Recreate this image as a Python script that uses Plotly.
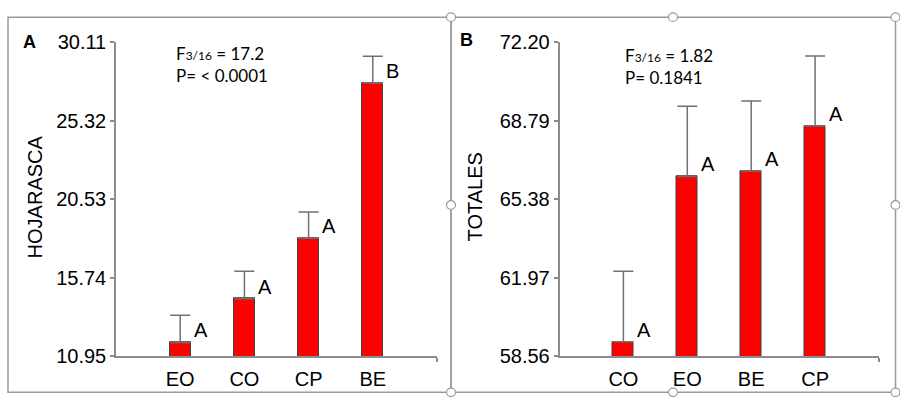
import plotly.graph_objects as go

W, H = 900, 409

# Panel A data (HOJARASCA)
cats_a = ["EO", "CO", "CP", "BE"]
vals_a = [11.80, 14.47, 18.15, 27.63]
err_a = [1.65, 1.67, 1.61, 1.63]
letters_a = ["A", "A", "A", "B"]
ticks_a = [10.95, 15.74, 20.53, 25.32, 30.11]
tick_text_a = ["10.95", "15.74", "20.53", "25.32", "30.11"]

# Panel B data (TOTALES)
cats_b = ["CO", "EO", "BE", "CP"]
vals_b = [59.19, 66.37, 66.61, 68.56]
err_b = [3.07, 3.05, 3.04, 3.04]
letters_b = ["A", "A", "A", "A"]
ticks_b = [58.56, 61.97, 65.38, 68.79, 72.20]
tick_text_b = ["58.56", "61.97", "65.38", "68.79", "72.20"]

ARIAL = "Liberation Sans"
AXC = "#8c8c8c"
BARW = 0.33

fig = go.Figure()

def add_panel(cats, vals, errs, xa, ya):
    xs = list(range(len(cats)))
    fig.add_trace(go.Bar(
        x=xs, y=vals, width=BARW, xaxis=xa, yaxis=ya,
        marker=dict(color="#ff0000", line=dict(color="#404040", width=1)),
        error_y=dict(type="data", array=errs, symmetric=False, arrayminus=[0]*len(errs),
                     color="#707070", thickness=1.5, width=10),
        showlegend=False, hoverinfo="skip",
    ))

add_panel(cats_a, vals_a, err_a, "x", "y")
add_panel(cats_b, vals_b, err_b, "x2", "y2")

def xaxis_cfg(domain, cats, anchor):
    return dict(domain=domain, range=[-1, 4], anchor=anchor,
                tickvals=list(range(len(cats))), ticktext=cats, ticks="",
                showline=True, linecolor=AXC, linewidth=1.5, showgrid=False, zeroline=False,
                tickfont=dict(family=ARIAL, size=20, color="#000"), ticklabelstandoff=4,
                minor=dict(tickvals=[4], ticks="outside", ticklen=4, tickcolor=AXC, tickwidth=1.5),
                fixedrange=True)

def yaxis_cfg(domain, ticks, tt, anchor):
    return dict(domain=domain, range=[ticks[0], ticks[-1]], anchor=anchor,
                tickvals=ticks, ticktext=tt, ticks="outside", ticklen=4,
                tickcolor=AXC, tickwidth=1.5,
                showline=True, linecolor=AXC, linewidth=1.5, showgrid=False, zeroline=False,
                tickfont=dict(family=ARIAL, size=20, color="#000"), fixedrange=True)

ydom = [1 - 365 / H, 1 - 33 / H]
fig.update_layout(
    width=W, height=H, margin=dict(l=0, r=0, t=0, b=0),
    paper_bgcolor="white", plot_bgcolor="rgba(0,0,0,0)",
    bargap=0,
    xaxis=xaxis_cfg([116 / W, 437 / W], cats_a, "y"),
    yaxis=yaxis_cfg(ydom, ticks_a, tick_text_a, "x"),
    xaxis2=xaxis_cfg([559.5 / W, 879 / W], cats_b, "y2"),
    yaxis2=yaxis_cfg(ydom, ticks_b, tick_text_b, "x2"),
)

ann = []
# significance letters
for xr, yr, vals, lets in (("x", "y", vals_a, letters_a), ("x2", "y2", vals_b, letters_b)):
    for i, (v, l) in enumerate(zip(vals, lets)):
        ann.append(dict(x=i + BARW / 2, y=v, xref=xr, yref=yr, text=l, showarrow=False,
                        xanchor="left", yanchor="middle", xshift=1, yshift=12,
                        font=dict(family=ARIAL, size=20, color="#000")))

# panel letters
ann.append(dict(x=29 / W, y=1 - 33 / H, xref="paper", yref="paper", text="<b>A</b>",
                showarrow=False, xanchor="center", yanchor="middle",
                font=dict(family=ARIAL, size=18, color="#000")))
ann.append(dict(x=467 / W, y=1 - 31 / H, xref="paper", yref="paper", text="<b>B</b>",
                showarrow=False, xanchor="center", yanchor="middle",
                font=dict(family=ARIAL, size=18, color="#000")))

# y-axis titles
ann.append(dict(x=35 / W, y=1 - 197 / H, xref="paper", yref="paper", text="HOJARASCA",
                textangle=-90, showarrow=False, xanchor="center", yanchor="middle",
                font=dict(family=ARIAL, size=20, color="#000")))
ann.append(dict(x=475 / W, y=1 - 197 / H, xref="paper", yref="paper", text="TOTALES",
                textangle=-90, showarrow=False, xanchor="center", yanchor="middle",
                font=dict(family=ARIAL, size=20, color="#000")))

# stats text
STATF = "Lato"
def stat(x, y, txt):
    ann.append(dict(x=x / W, y=1 - y / H, xref="paper", yref="paper", text=txt,
                    showarrow=False, xanchor="left", yanchor="middle",
                    font=dict(family=STATF, size=17, color="#000")))
sub = '<span style="font-size:12px">3/16</span>'
stat(174, 45, "F" + sub + " = 17.2")
stat(174, 68, "P= &lt; 0.0001")
stat(623, 47, "F" + sub + " = 1.82")
stat(623, 70, "P= 0.1841")

fig.update_layout(annotations=ann)

# frames and selection handles
FR = "#9a9a9a"
shapes = []
for x0, x1 in ((8, 451), (451, 895.5)):
    shapes.append(dict(type="rect", xref="paper", yref="paper",
                       x0=x0 / W, x1=x1 / W, y0=1 - 403 / H, y1=1 - 6.5 / H,
                       line=dict(color=FR, width=1.5), fillcolor="rgba(0,0,0,0)"))
r = 4.5
for hx in (451, 673, 895.5):
    for hy in (6.5, 205, 403):
        if hx == 673 and hy == 205:
            continue
        shapes.append(dict(type="circle", xref="paper", yref="paper",
                           x0=(hx - r) / W, x1=(hx + r) / W,
                           y0=1 - (hy + r) / H, y1=1 - (hy - r) / H,
                           line=dict(color=FR, width=1.2), fillcolor="white"))
fig.update_layout(shapes=shapes)

fig.write_html("out.html", config={"displayModeBar": False},
               post_script="document.body.style.margin='0';document.body.style.overflow='hidden';")
